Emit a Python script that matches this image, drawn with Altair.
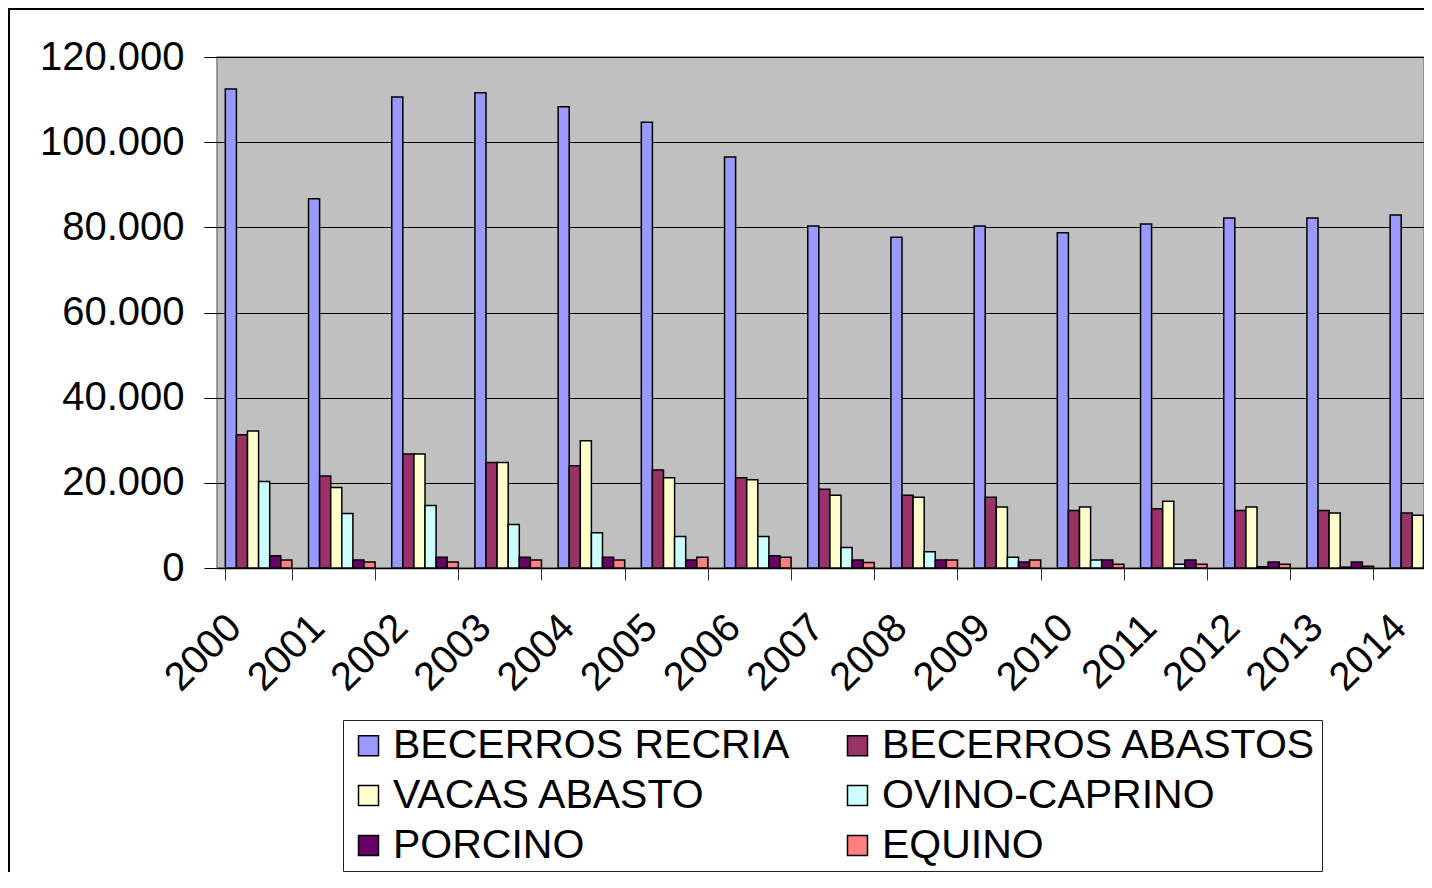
import altair as alt
import pandas as pd

years = ["2000", "2001", "2002", "2003", "2004", "2005", "2006", "2007",
         "2008", "2009", "2010", "2011", "2012", "2013", "2014"]
series = ["BECERROS RECRIA", "BECERROS ABASTOS", "VACAS ABASTO",
          "OVINO-CAPRINO", "PORCINO", "EQUINO"]
colors = ["#9999FF", "#993366", "#FFFFCC", "#CCFFFF", "#660066", "#FF8080"]

recria = [112500, 86700, 110600, 111600, 108300, 104700, 96500, 80300,
          77700, 80300, 78700, 80800, 82200, 82200, 82900]
abastos = [31300, 21600, 26800, 24800, 24000, 23000, 21200, 18500,
           17100, 16600, 13500, 13900, 13500, 13500, 12900]
vacas = [32200, 18900, 26800, 24800, 29900, 21200, 20700, 17100,
         16600, 14300, 14300, 15700, 14300, 12900, 12400]
ovino = [20300, 12800, 14700, 10200, 8300, 7400, 7400, 4800,
         3800, 2500, 1900, 900, 300, 200, 300]
porcino = [2900, 1900, 2500, 2500, 2500, 1900, 2900, 1900,
           1900, 1400, 1900, 1900, 1400, 1400, 500]
equino = [1900, 1400, 1400, 1900, 1900, 2500, 2500, 1300,
          1900, 1900, 900, 900, 900, 400, 400]

values = [recria, abastos, vacas, ovino, porcino, equino]
rows = []
for s, vals in zip(series, values):
    for y, v in zip(years, vals):
        rows.append({"year": y, "serie": s, "value": v})
df = pd.DataFrame(rows)

FONT = "Liberation Sans"
W, H = 1207, 511
FULL_W = 1248

bars = alt.Chart(df).mark_bar(stroke="black", strokeWidth=1.5).encode(
    x=alt.X("year:N", sort=years, title=None,
            scale=alt.Scale(paddingInner=0.2, paddingOuter=0.1, range=[0, FULL_W]),
            axis=alt.Axis(labelAngle=-45, labelAlign="right", labelBaseline="middle",
                          labelOffset=-24, labelPadding=41, labelFontSize=40,
                          labelFont=FONT, labelColor="black",
                          domainColor="black", domainWidth=1.5,
                          tickColor="#333333", tickSize=12, tickBand="extent",
                          grid=False)),
    xOffset=alt.XOffset("serie:N", sort=series, scale=alt.Scale(paddingInner=0, paddingOuter=0)),
    y=alt.Y("value:Q", title=None,
            scale=alt.Scale(domain=[0, 120000], nice=False),
            axis=alt.Axis(values=[0, 20000, 40000, 60000, 80000, 100000, 120000],
                          labelExpr="replace(format(datum.value, ','), /,/g, '.')",
                          labelFontSize=40, labelFont=FONT, labelColor="black",
                          labelPadding=20, tickSize=13, tickColor="black",
                          domain=False, grid=True, gridColor="black", gridWidth=1)),
    color=alt.Color("serie:N", sort=series,
                    scale=alt.Scale(domain=series, range=colors),
                    legend=alt.Legend(title=None, orient="none", legendX=126, legendY=663,
                                      direction="horizontal",
                                      columns=2, columnPadding=47, rowPadding=8,
                                      padding=5, symbolType="square", symbolSize=400,
                                      symbolStrokeColor="black", symbolStrokeWidth=1.5,
                                      labelFontSize=41, labelFont=FONT, labelColor="black",
                                      labelOffset=4, strokeColor="#222222",
                                      fillColor="white", labelLimit=0)),
)

frame = alt.Chart(pd.DataFrame({"k": [0]})).mark_rect(
    filled=False, stroke="black", strokeWidth=2
).encode(
    x=alt.value(-208), x2=alt.value(FULL_W + 200),
    y=alt.value(-48), y2=alt.value(H + 400),
)

chart = alt.layer(frame, bars).properties(
    width=W, height=H,
    autosize=alt.AutoSizeParams(type="none"),
    padding={"left": 209, "top": 49, "right": 0, "bottom": 304},
    background="white",
).configure_view(fill="#C0C0C0", stroke="#808080", strokeWidth=1.5)

chart.save("out.html", embed_options={"renderer": "svg", "actions": False})
